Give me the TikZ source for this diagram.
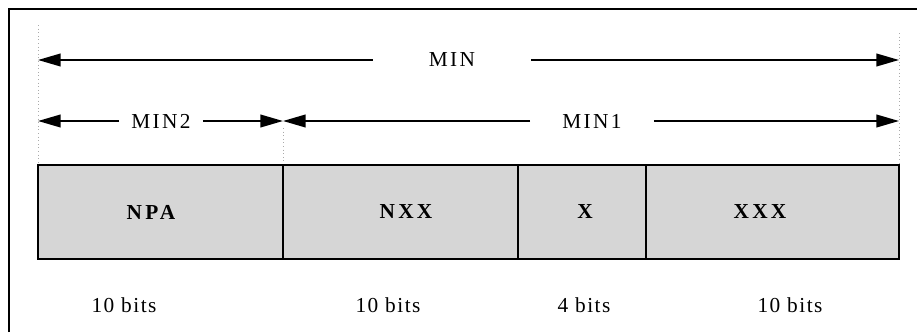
\documentclass[tikz,border=0pt]{standalone}
\usepackage{fontspec}
\setmainfont{Liberation Serif}
\usetikzlibrary{arrows.meta}
\definecolor{fieldgray}{RGB}{214,214,214}
\definecolor{guidegray}{RGB}{170,170,170}
\begin{document}
\begin{tikzpicture}[x=0.75pt,y=-0.75pt,
  frame/.style={line width=1.7pt},
  guide/.style={guidegray,dotted,line width=0.7pt},
  span/.style={line width=1.4pt,-{Triangle[length=17pt,width=9.5pt]}},
  spanlabel/.style={inner ysep=0pt,
    font=\fontsize{16}{18}\selectfont\addfontfeature{LetterSpace=11}},
  field/.style={draw,line width=1.4pt,fill=fieldgray,inner sep=0pt,
    outer sep=0pt,minimum height=70.5pt},
  fieldname/.style={inner sep=0pt,
    font=\fontsize{16}{18}\selectfont\bfseries\addfontfeature{LetterSpace=15}},
  bits/.style={inner sep=0pt,
    font=\fontsize{16}{18}\selectfont\addfontfeature{LetterSpace=7}}
]
\useasboundingbox (0,0) rectangle (917,332);

% outer frame (top and left edges)
\draw[frame] (9,332) -- (9,9) -- (917,9);

% dotted guides marking the field boundaries
\coordinate (gL0) at (38,25);   \coordinate (gL1) at (38,165);
\coordinate (gM0) at (283,128); \coordinate (gM1) at (283,165);
\coordinate (gR0) at (899,33);  \coordinate (gR1) at (899,165);
\draw[guide] (gL0) -- (gL1);
\draw[guide] (gM0) -- (gM1);
\draw[guide] (gR0) -- (gR1);

% MIN span
\node[spanlabel,inner xsep=42pt] (min) at (452,60) {MIN};
\coordinate (minL) at (38,60);
\coordinate (minR) at (899,60);
\draw[span] (min.west) -- (minL);
\draw[span] (min.east) -- (minR);

% MIN2 span
\node[spanlabel,inner xsep=9pt] (min2) at (161,121) {MIN2};
\coordinate (min2L) at (38,121);
\coordinate (mid) at (283,121);
\draw[span] (min2.west) -- (min2L);
\draw[span] (min2.east) -- (mid);

% MIN1 span
\node[spanlabel,inner xsep=24pt] (min1) at (592,121) {MIN1};
\coordinate (min1R) at (899,121);
\draw[span] (min1.west) -- (mid);
\draw[span] (min1.east) -- (min1R);

% fields
\node[field,minimum width=183.75pt] (npa) at (160.5,212) {};
\node[field,minimum width=176.25pt] (nxx) at (400.5,212) {};
\node[field,minimum width=96pt]     (x)   at (582,212) {};
\node[field,minimum width=189.75pt] (xxx) at (772.5,212) {};

\node[fieldname] (tnpa) at (151,212) {NPA};
\node[fieldname] (tnxx) at (406,212) {NXX};
\node[fieldname] (tx)   at (585,212) {X};
\node[fieldname] (txxx) at (760,212) {XXX};

% field widths
\node[bits] (b1) at (124,305) {10 bits};
\node[bits] (b2) at (388,305) {10 bits};
\node[bits] (b3) at (584,305) {4 bits};
\node[bits] (b4) at (790,305) {10 bits};
\end{tikzpicture}
\end{document}
